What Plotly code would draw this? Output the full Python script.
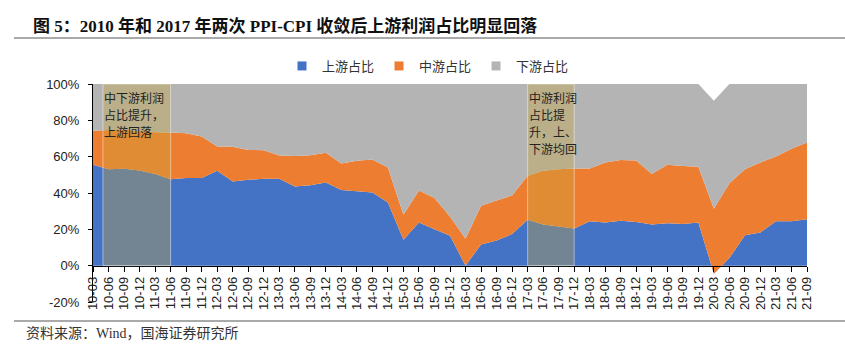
import plotly.graph_objects as go

# ---------------- data ----------------
quarters = [f"{y:02d}-{m:02d}" for y in range(10, 22) for m in (3, 6, 9, 12)][:47]

upstream = [55.5, 53.1, 53.3, 52.4, 50.4, 47.6, 48.2, 48.2, 52.2, 46.3, 47.3, 47.8,
            47.8, 43.6, 44.3, 45.8, 41.6, 41.0, 40.3, 34.8, 14.3, 23.8, 20.1, 16.5,
            0.0, 11.7, 13.9, 17.4, 25.3, 22.7, 21.6, 20.5, 24.4, 23.8, 24.7, 24.0,
            22.7, 23.3, 22.9, 23.8, -4.4, 4.2, 16.7, 18.3, 24.4, 24.4, 25.6]
midstream = [18.7, 21.6, 21.4, 21.6, 23.0, 25.7, 24.7, 22.9, 13.4, 19.1, 16.4, 15.8,
             12.8, 16.7, 16.5, 16.3, 14.6, 16.7, 18.1, 19.2, 13.7, 17.6, 17.1, 10.6,
             14.8, 21.3, 22.0, 21.2, 24.2, 29.5, 31.5, 33.0, 29.1, 33.0, 33.5, 33.9,
             27.7, 32.2, 32.0, 30.6, 35.7, 41.2, 36.4, 38.5, 35.7, 39.9, 42.2]
downstream = [25.8, 25.3, 25.3, 26.0, 26.6, 26.7, 27.1, 28.9, 34.4, 34.6, 36.3, 36.4,
              39.4, 39.7, 39.2, 37.9, 43.8, 42.3, 41.6, 46.0, 72.0, 58.6, 62.8, 72.9,
              85.2, 67.0, 64.1, 61.4, 50.5, 47.8, 46.9, 46.5, 46.5, 43.2, 41.8, 42.1,
              49.6, 44.5, 45.1, 45.6, 59.5, 54.6, 46.9, 43.2, 39.9, 35.7, 32.2]
series_names = ["上游占比", "中游占比", "下游占比"]
series_colors = ["#4472C4", "#ED7D31", "#B4B4B4"]

y_ticks = [-20, 0, 20, 40, 60, 80, 100]

# highlighted periods (category positions) and their notes (one entry per text line)
periods = [(0.64, 5.0), (28.0, 31.0)]
period_notes = [["中下游利润", "占比提升，", "上游回落"],
                ["中游利润", "占比提", "升，上、", "下游均回"]]

title_text = "图 5：2010 年和 2017 年两次 PPI-CPI 收敛后上游利润占比明显回落"
source_text = "资料来源：Wind，国海证券研究所"

# ---------------- layout helpers ----------------
W, H = 845, 350
ML, MR, MT, MB = 93, 38, 84, 48
PW, PH = W - ML - MR, H - MT - MB


def px_x(px):
    return (px - ML) / PW


def px_y(py):
    return (H - MB - py) / PH


xidx = list(range(len(quarters)))
fig = go.Figure()
for name, vals, col in zip(series_names, [upstream, midstream, downstream], series_colors):
    fig.add_trace(go.Scatter(x=xidx, y=vals, name=name, stackgroup="one", mode="none",
                             fillcolor=col, showlegend=False, hoverinfo="skip"))
# legend entries (square markers)
for name, col in zip(series_names, series_colors):
    fig.add_trace(go.Scatter(x=[None], y=[None], name=name, mode="markers",
                             marker=dict(symbol="square", size=9, color=col)))

shapes = []
annotations = []
line_px = 17.3
for (a, b), lines in zip(periods, period_notes):
    shapes.append(dict(type="rect", xref="x", yref="y", x0=a, x1=b, y0=0, y1=100,
                       fillcolor="rgba(200,165,60,0.36)",
                       line=dict(color="rgba(255,255,255,0.45)", width=1), layer="above"))
    for k, t in enumerate(lines):
        annotations.append(dict(xref="x", yref="paper", x=a, y=px_y(97 + k * line_px),
                                xanchor="left", yanchor="middle", xshift=-1,
                                text=t, showarrow=False, align="left",
                                font=dict(family="Noto Sans CJK SC", size=12, color="#222")))

# title, rules, source
for py in (38, 321):
    shapes.append(dict(type="line", xref="paper", yref="paper", x0=px_x(14), x1=px_x(845),
                       y0=px_y(py), y1=px_y(py), line=dict(color="#555", width=1)))
annotations.append(dict(xref="paper", yref="paper", x=px_x(31), y=px_y(26), xanchor="left",
                        yanchor="middle", text="<b>" + title_text + "</b>", showarrow=False,
                        font=dict(family="Liberation Serif, Noto Sans CJK SC", size=17, color="#111")))
annotations.append(dict(xref="paper", yref="paper", x=px_x(24), y=px_y(333), xanchor="left",
                        yanchor="middle", text=source_text, showarrow=False,
                        font=dict(family="Liberation Serif, Noto Sans CJK SC", size=14, color="#333")))

ymin, ymax = y_ticks[0], y_ticks[-1]
fig.update_layout(
    width=W, height=H, margin=dict(l=ML, r=MR, t=MT, b=MB),
    paper_bgcolor="white", plot_bgcolor="white",
    showlegend=True,
    legend=dict(orientation="h", x=px_x(428), xanchor="center", y=px_y(66), yanchor="middle",
                traceorder="normal",
                font=dict(family="Noto Sans CJK SC", size=13, color="#333"),
                itemwidth=30, bgcolor="rgba(0,0,0,0)"),
    xaxis=dict(range=[0, len(quarters) - 1], tickmode="array", tickvals=xidx, ticktext=quarters,
               tickangle=-90, ticks="outside", ticklen=5, tickcolor="black",
               showline=True, linecolor="black", linewidth=1, showgrid=False, zeroline=False,
               anchor="free", position=(0 - ymin) / (ymax - ymin), automargin=False,
               tickfont=dict(family="Liberation Sans", size=13, color="#222")),
    yaxis=dict(range=[ymin, ymax], tickmode="array", tickvals=y_ticks,
               ticktext=[f"{v}%" for v in y_ticks], ticks="outside", ticklen=4, tickcolor="black",
               showline=True, linecolor="black", linewidth=1, showgrid=False, zeroline=False,
               automargin=False, ticklabelstandoff=6,
               tickfont=dict(family="Liberation Sans", size=13, color="#222")),
    shapes=shapes, annotations=annotations,
)
fig.write_html("out.html")
